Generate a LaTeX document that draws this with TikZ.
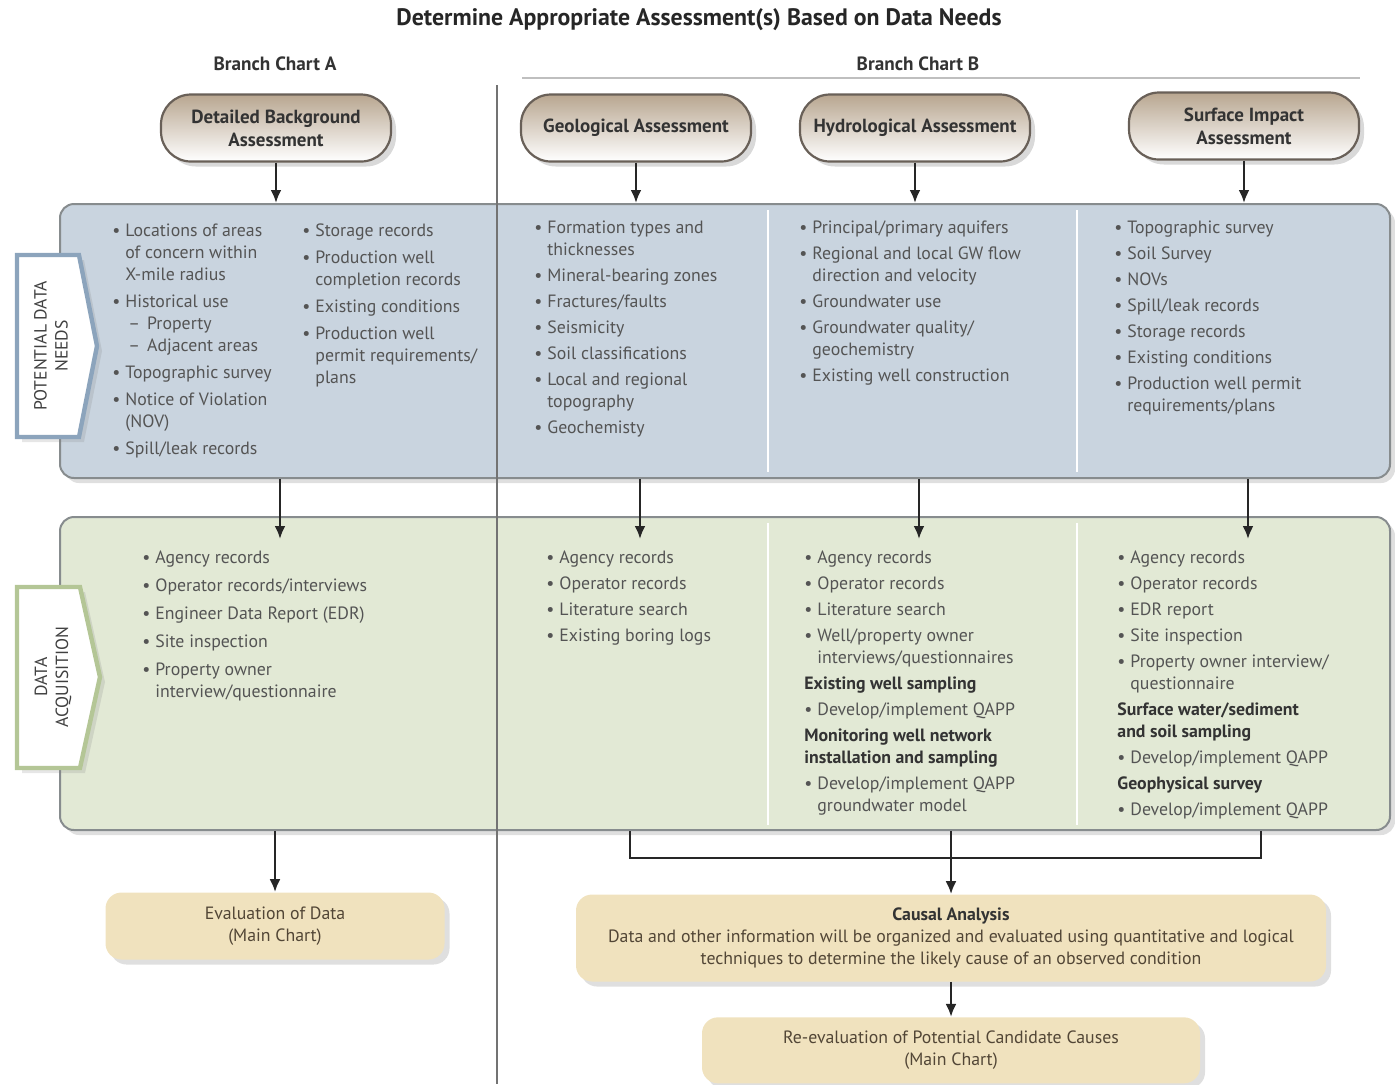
\documentclass[tikz,border=0pt]{standalone}
\usepackage{fontspec}
\setmainfont{PT Sans}
\usetikzlibrary{arrows.meta,positioning,shadows,calc}

\definecolor{capTop}{RGB}{184,166,144}
\definecolor{capLine}{RGB}{105,96,88}
\definecolor{needFill}{RGB}{201,212,223}
\definecolor{needTab}{RGB}{140,164,188}
\definecolor{acqFill}{RGB}{226,233,213}
\definecolor{acqTab}{RGB}{180,198,150}
\definecolor{panelLine}{RGB}{135,140,142}
\definecolor{resFill}{RGB}{240,226,190}
\definecolor{txtGray}{RGB}{84,84,84}
\definecolor{resTxt}{RGB}{82,70,54}

\newcommand\bul{\makebox[6.5pt][l]{\textbullet}}
\newcommand\ind{\hspace*{6.5pt}}

\tikzset{
    assess/.style={
           rectangle,
           rounded corners=15pt,
           draw=capLine, line width=1.1pt,
           top color=capTop, bottom color=white,
           minimum width=115pt,
           minimum height=33.5pt,
           align=center,
           font=\fontsize{9.5}{11.5}\selectfont\bfseries,
           text=black!80,
           drop shadow={opacity=0.3},
           },
    panel/.style={
           rectangle,
           rounded corners=7pt,
           draw=panelLine, line width=1pt,
           minimum width=665pt,
           drop shadow={opacity=0.25},
           },
    tabtext/.style={rotate=90, align=center,
           font=\fontsize{8.8}{10.5}\selectfont, text=black!75},
    itemlist/.style={anchor=north west, inner sep=0pt, align=left,
           font=\fontsize{8.9}{11}\selectfont, text=txtGray},
    result/.style={
           rectangle,
           rounded corners=8pt,
           fill=resFill,
           align=center,
           font=\fontsize{8.9}{11}\selectfont,
           text=resTxt,
           drop shadow={opacity=0.25},
           },
    heading/.style={font=\fontsize{9.6}{11}\selectfont\bfseries, text=black!80},
    arrowline/.style={->, draw=black!85, line width=1.2pt},
}

\begin{document}
\begin{tikzpicture}[x=0.5pt,y=-0.5pt,
                    >={Latex[length=6.5pt,width=5.5pt]}]
  \useasboundingbox (0,0) rectangle (1395,1084);

  % headings
  \node[font=\fontsize{11.9}{13}\selectfont\bfseries, text=black!85] (title) at (699,20)
       {Determine Appropriate Assessment(s) Based on Data Needs};
  \node[heading] (chartA) at (275,64) {Branch Chart A};
  \node[heading] (chartB) at (918,64) {Branch Chart B};
  \draw[black!25, line width=0.8pt] (522,78) -- (1360,78);

  % assessments
  \node[assess] (bkg) at (276,128) {Detailed Background\\Assessment};
  \node[assess] (geo) at (636,128) {Geological Assessment};
  \node[assess] (hyd) at (915,128) {Hydrological Assessment};
  \node[assess] (srf) at (1244,126) {Surface Impact\\Assessment};

  % panels
  \node[panel, fill=needFill, minimum height=137pt]   (needs) at (725,341) {};
  \node[panel, fill=acqFill,  minimum height=156.5pt] (acq)   at (725,673.5) {};
  \foreach \x in {768,1077} {
    \draw[white, line width=1.4pt] (\x,210) -- (\x,472);
    \draw[white, line width=1.4pt] (\x,523) -- (\x,825);
  }

  % side tabs
  \draw[fill=white, draw=needTab, line width=2.2pt, drop shadow={opacity=0.2}]
       (17,255) -- (79,255) -- (97,346) -- (79,437) -- (17,437) -- cycle;
  \node[tabtext] (needtab) at (51,346) {POTENTIAL DATA\\NEEDS};
  \draw[fill=white, draw=acqTab, line width=2.2pt, drop shadow={opacity=0.2}]
       (17,587) -- (80,587) -- (100,677) -- (80,768) -- (17,768) -- cycle;
  \node[tabtext] (acqtab) at (53,677) {DATA\\ACQUISITION};

  % split between chart A and B
  \coordinate (splitTop) at (497,85);
  \coordinate (splitBot) at (497,1084);
  \draw[black!55, line width=0.9pt] (splitTop) -- (splitBot);

  % potential data needs
  \node[itemlist] (needsA1) at (112,223) {
    \bul Locations of areas\\ \ind of concern within\\ \ind X-mile radius\\[2.6pt]
    \bul Historical use\\ \ind\hspace*{1.5pt}--\hspace{3.5pt}Property\\
    \ind\hspace*{1.5pt}--\hspace{3.5pt}Adjacent areas\\[2.6pt]
    \bul Topographic survey\\[2.6pt]
    \bul Notice of Violation\\ \ind (NOV)\\[2.6pt]
    \bul Spill/leak records};
  \node[itemlist] (needsA2) at (302,223) {
    \bul Storage records\\[2.6pt]
    \bul Production well\\ \ind completion records\\[2.6pt]
    \bul Existing conditions\\[2.6pt]
    \bul Production well\\ \ind permit requirements/\\ \ind plans};
  \node[itemlist] (needsGeo) at (534,220) {
    \bul Formation types and\\ \ind thicknesses\\[2pt]
    \bul Mineral-bearing zones\\[2pt]
    \bul Fractures/faults\\[2pt]
    \bul Seismicity\\[2pt]
    \bul Soil classifications\\[2pt]
    \bul Local and regional\\ \ind topography\\[2pt]
    \bul Geochemisty};
  \node[itemlist] (needsHyd) at (799,220) {
    \bul Principal/primary aquifers\\[2pt]
    \bul Regional and local GW flow\\ \ind direction and velocity\\[2pt]
    \bul Groundwater use\\[2pt]
    \bul Groundwater quality/\\ \ind geochemistry\\[2pt]
    \bul Existing well construction};
  \node[itemlist] (needsSrf) at (1114,220) {
    \bul Topographic survey\\[2pt]
    \bul Soil Survey\\[2pt]
    \bul NOVs\\[2pt]
    \bul Spill/leak records\\[2pt]
    \bul Storage records\\[2pt]
    \bul Existing conditions\\[2pt]
    \bul Production well permit\\ \ind requirements/plans};

  % data acquisition
  \node[itemlist] (acqA) at (142,550) {
    \bul Agency records\\[3pt]
    \bul Operator records/interviews\\[3pt]
    \bul Engineer Data Report (EDR)\\[3pt]
    \bul Site inspection\\[3pt]
    \bul Property owner\\ \ind interview/questionnaire};
  \node[itemlist] (acqGeo) at (546,550) {
    \bul Agency records\\[2pt]
    \bul Operator records\\[2pt]
    \bul Literature search\\[2pt]
    \bul Existing boring logs};
  \node[itemlist] (acqHyd) at (804,550) {
    \bul Agency records\\[2pt]
    \bul Operator records\\[2pt]
    \bul Literature search\\[2pt]
    \bul Well/property owner\\ \ind interviews/questionnaires\\[2pt]
    \textbf{\color{black!80}Existing well sampling}\\[2pt]
    \bul Develop/implement QAPP\\[2pt]
    \textbf{\color{black!80}Monitoring well network}\\
    \textbf{\color{black!80}installation and sampling}\\[2pt]
    \bul Develop/implement QAPP\\ \ind groundwater model};
  \node[itemlist] (acqSrf) at (1117,550) {
    \bul Agency records\\[2pt]
    \bul Operator records\\[2pt]
    \bul EDR report\\[2pt]
    \bul Site inspection\\[2pt]
    \bul Property owner interview/\\ \ind questionnaire\\[2pt]
    \textbf{\color{black!80}Surface water/sediment}\\
    \textbf{\color{black!80}and soil sampling}\\[2pt]
    \bul Develop/implement QAPP\\[2pt]
    \textbf{\color{black!80}Geophysical survey}\\[2pt]
    \bul Develop/implement QAPP};

  % results
  \node[result, minimum width=169.5pt, minimum height=33.5pt] (evalA) at (275,926)
       {Evaluation of Data\\(Main Chart)};
  \node[result, minimum width=375pt, minimum height=43.5pt] (causal) at (951,938)
       {\textbf{\color{black!80}Causal Analysis}\\
        Data and other information will be organized and evaluated using quantitative and logical\\
        techniques to determine the likely cause of an observed condition};
  \node[result, minimum width=249pt, minimum height=33pt, below=17.5pt of causal] (reeval)
       {Re-evaluation of Potential Candidate Causes\\(Main Chart)};

  % connectors
  \foreach \a in {bkg,geo,hyd,srf} {
    \draw[arrowline] (\a.south) -- (\a.south |- needs.north);
    \draw[arrowline] ($(\a.south |- needs.south)+(4,0)$) -- ($(\a.south |- acq.north)+(4,23)$);
  }
  \draw[arrowline] (evalA.north |- acq.south) -- (evalA.north);
  \coordinate (brL) at (630,858);
  \coordinate (brR) at (1261,858);
  \draw[black!85, line width=1.2pt] (brL |- acq.south) -- (brL) -- (brR) -- (brR |- acq.south);
  \draw[arrowline] (causal.north |- acq.south) -- (causal.north);
  \draw[arrowline] (causal) -- (reeval);

\end{tikzpicture}
\end{document}
